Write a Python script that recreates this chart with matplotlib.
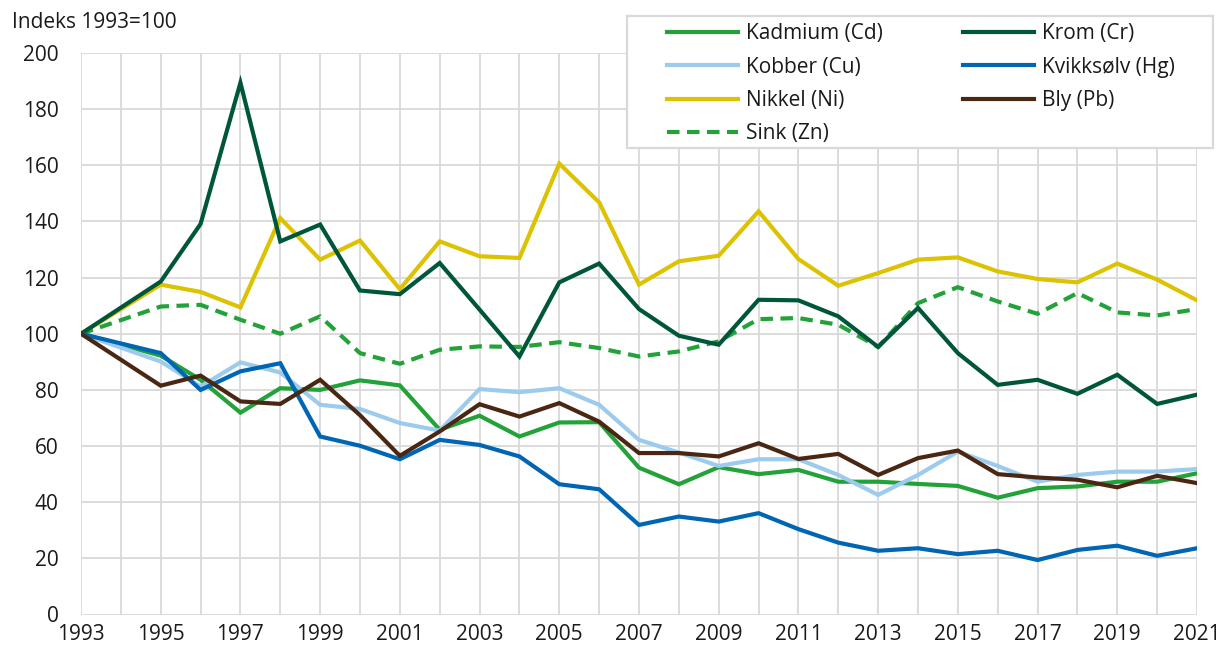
import matplotlib
matplotlib.use("Agg")
import matplotlib.pyplot as plt
from matplotlib.patches import Rectangle

plt.rcParams['font.family'] = ['Open Sans', 'DejaVu Sans']

years = [1993] + list(range(1995, 2022))

kadmium = [100, 92.2, 83.6, 71.9, 80.6, 80.0, 83.4, 81.6, 65.8, 70.8, 63.4, 68.4, 68.5, 52.3,
           46.4, 52.5, 50.0, 51.5, 47.3, 47.3, 46.5, 45.8, 41.6, 45.0, 45.6, 47.3, 47.3, 50.3]
kobber = [100, 90.1, 81.2, 89.8, 86.2, 74.7, 73.2, 68.2, 65.5, 80.3, 79.2, 80.6, 74.7, 62.2,
          57.7, 52.9, 55.3, 55.3, 49.7, 42.6, 49.7, 58.0, 52.9, 47.3, 49.7, 50.9, 50.9, 51.8]
nikkel = [100, 117.5, 114.9, 109.4, 141.2, 126.4, 133.2, 115.9, 132.9, 127.6, 127.0, 160.6, 146.8, 117.5,
          125.8, 127.8, 143.6, 126.6, 117.1, 121.6, 126.4, 127.2, 122.2, 119.5, 118.3, 125.0, 119.3, 111.9]
sink = [100, 109.7, 110.3, 105.0, 100.0, 106.2, 93.1, 89.3, 94.3, 95.5, 95.3, 97.0, 94.9, 91.9,
        93.7, 97.3, 105.2, 105.6, 103.2, 95.3, 110.9, 116.6, 111.5, 107.1, 114.5, 107.6, 106.5, 108.8]
krom = [100, 118.6, 139.1, 189.4, 132.9, 138.9, 115.4, 114.1, 125.2, 108.6, 91.9, 118.3, 125.0, 108.8,
        99.3, 96.1, 112.1, 111.9, 106.2, 95.3, 109.2, 93.1, 81.8, 83.6, 78.6, 85.4, 75.0, 78.3]
kvikksolv = [100, 93.1, 80.0, 86.6, 89.5, 63.4, 60.1, 55.3, 62.2, 60.4, 56.3, 46.4, 44.6, 31.9,
             34.9, 33.1, 36.1, 30.4, 25.6, 22.7, 23.6, 21.5, 22.7, 19.4, 23.0, 24.5, 20.9, 23.6]
bly = [100, 81.5, 85.1, 75.9, 75.0, 83.6, 71.0, 56.5, 65.2, 74.9, 70.5, 75.3, 68.7, 57.5,
       57.5, 56.3, 61.0, 55.4, 57.2, 49.7, 55.7, 58.4, 50.0, 48.8, 48.0, 45.3, 49.4, 46.8]

labels = ["Kadmium (Cd)", "Kobber (Cu)", "Nikkel (Ni)", "Sink (Zn)",
          "Krom (Cr)", "Kvikksølv (Hg)", "Bly (Pb)"]
series = [kadmium, kobber, nikkel, sink, krom, kvikksolv, bly]
colors = ["#23a23a", "#9ccbee", "#dcc200", "#23a23a", "#00563b", "#0066b3", "#4a2713"]

W, H = 1220, 648
FS = 15
fig = plt.figure(figsize=(W / 100, H / 100), dpi=100)
ax = fig.add_axes([81 / W, 1 - 614.5 / H, (1197 - 81) / W, (614.5 - 53) / H])

lw = 3.0
handles = []
for lab, vals, c in zip(labels, series, colors):
    if lab.startswith("Sink"):
        h, = ax.plot(years, vals, color=c, lw=lw, linestyle=(0, (3.0, 1.8)),
                     dash_capstyle='butt', label=lab)
    else:
        h, = ax.plot(years, vals, color=c, lw=lw, solid_joinstyle='miter', label=lab)
    handles.append(h)

ax.set_xlim(1993, 2021)
ax.set_ylim(0, 200)
ax.set_xticks(range(1993, 2022, 2))
ax.set_xticks(range(1993, 2022), minor=True)
ax.set_yticks(range(0, 201, 20))
ax.grid(True, which='both', color='#d9d9d9', lw=1.3)
ax.set_axisbelow(True)
for s in ax.spines.values():
    s.set_visible(False)
ax.tick_params(axis='both', which='both', length=0, labelsize=FS, colors='#1a1a1a')
ax.tick_params(axis='x', pad=6.5)
ax.tick_params(axis='y', pad=16)

fig.text(12 / W, 1 - 22 / H, "Indeks 1993=100", fontsize=FS, va='center', ha='left', color='#1a1a1a')

# legend frame
rect = Rectangle((627 / W, 1 - 148 / H), (1213 - 627) / W, (148 - 16) / H,
                 transform=fig.transFigure, facecolor='white', edgecolor='#d9d9d9',
                 lw=1.6, zorder=3)
fig.add_artist(rect)

common = dict(loc='upper left', borderaxespad=0, borderpad=0, fontsize=FS, frameon=False,
              handlelength=3.4, handletextpad=0.4, labelspacing=0.6)
top = 1 - 23 / H
leg1 = fig.legend(handles=handles[:4], labels=labels[:4],
                  bbox_to_anchor=(667 / W, top), **common)
leg2 = fig.legend(handles=handles[4:], labels=labels[4:],
                  bbox_to_anchor=(963 / W, top), **common)
for leg in (leg1, leg2):
    leg.set_zorder(5)
    for t in leg.get_texts():
        t.set_color('#1a1a1a')

fig.savefig("out.png", dpi=100)
